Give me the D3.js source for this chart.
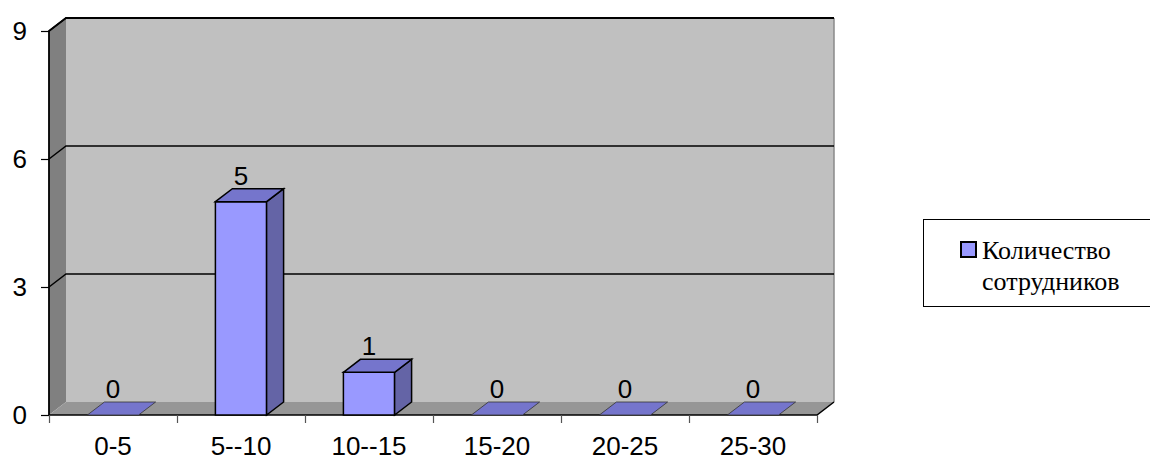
<!DOCTYPE html>
<html>
<head>
<meta charset="utf-8">
<title>Количество сотрудников</title>
<style>
  body { margin: 0; background: #fff; }
  .serif { font-family: "Liberation Serif", "DejaVu Serif", "Times New Roman", serif; }
  .sans { font-family: "Liberation Sans", Arial, sans-serif; }
</style>
</head>
<body>
<svg width="1150" height="460"></svg>
<script src="https://cdn.jsdelivr.net/npm/d3@7"></script>
<script>

var categories = ["0-5", "5--10", "10--15", "15-20", "20-25", "25-30"];
var values = [0, 5, 1, 0, 0, 0];
var yTicks = [0, 3, 6, 9];
var seriesName = ["Количество", "сотрудников"];

var svg = d3.select("svg");

// front plane of the 3D box
var pLeft = 49, pRight = 817, pTop = 31, pBottom = 415;
var dx = 17, dy = -13;   // depth offset

var x = d3.scaleBand().domain(categories).range([pLeft, pRight])
    .paddingInner(0.6).paddingOuter(0.3);
var xLab = d3.scaleBand().domain(categories).range([pLeft, pRight]);
var xEdge = d3.scaleLinear().domain([0, categories.length]).range([pLeft, pRight]);
var y = d3.scaleLinear().domain([0, 9]).range([pBottom, pTop]);

function poly(pts) { return "M" + pts.map(function (p) { return p.join(","); }).join("L") + "Z"; }

var g = svg.append("g");

// back wall
g.append("path")
    .attr("d", poly([[pLeft + dx, pTop + dy], [pRight + dx, pTop + dy], [pRight + dx, pBottom + dy], [pLeft + dx, pBottom + dy]]))
    .attr("fill", "#c0c0c0");
// left wall
g.append("path")
    .attr("d", poly([[pLeft, pTop], [pLeft + dx, pTop + dy], [pLeft + dx, pBottom + dy], [pLeft, pBottom]]))
    .attr("fill", "#808080");
// floor
g.append("path")
    .attr("d", poly([[pLeft, pBottom], [pRight, pBottom], [pRight + dx, pBottom + dy], [pLeft + dx, pBottom + dy]]))
    .attr("fill", "#969696");

// right edge of back wall
g.append("line")
    .attr("x1", pRight + dx).attr("x2", pRight + dx)
    .attr("y1", pTop + dy).attr("y2", pBottom + dy)
    .attr("stroke", "#8a8a8a").attr("stroke-width", 1.5);

// gridlines (wall + back)
g.selectAll(".grid")
    .data(yTicks.filter(function (d) { return d > 0; }))
    .enter().append("path")
    .attr("class", "grid")
    .attr("fill", "none")
    .attr("stroke", "#000")
    .attr("stroke-width", 1.5)
    .attr("d", function (d) {
        var yy = y(d);
        return "M" + pLeft + "," + yy + "L" + (pLeft + dx) + "," + (yy + dy) + "L" + (pRight + dx) + "," + (yy + dy);
    });

// floor edges
g.append("path")
    .attr("d", "M" + pLeft + "," + pBottom + "L" + pRight + "," + pBottom + "L" + (pRight + dx) + "," + (pBottom + dy))
    .attr("fill", "none").attr("stroke", "#000").attr("stroke-width", 1.5);

// bars
var bars = g.selectAll(".bar")
    .data(values.map(function (v, i) { return { cat: categories[i], v: v }; }))
    .enter().append("g")
    .attr("class", "bar");

bars.each(function (d) {
    var b = d3.select(this);
    var x0 = x(d.cat), x1 = x(d.cat) + x.bandwidth();
    var y0 = y(0), y1 = y(d.v);
    if (d.v > 0) {
        b.append("path")
            .attr("d", poly([[x0, y1], [x1, y1], [x1, y0], [x0, y0]]))
            .attr("fill", "#9999ff").attr("stroke", "#000").attr("stroke-width", 1.5);
        b.append("path")
            .attr("d", poly([[x1, y1], [x1 + dx, y1 + dy], [x1 + dx, y0 + dy], [x1, y0]]))
            .attr("fill", "#6464a6").attr("stroke", "#000").attr("stroke-width", 1.5);
    }
    b.append("path")
        .attr("d", poly([[x0, y1], [x0 + dx, y1 + dy], [x1 + dx, y1 + dy], [x1, y1]]))
        .attr("fill", "#7575cc").attr("stroke", d.v > 0 ? "#000" : "#333").attr("stroke-width", d.v > 0 ? 1.5 : 0.8);
    b.append("text")
        .attr("class", "sans")
        .attr("x", (x0 + x1) / 2)
        .attr("y", y1 + dy - 4)
        .attr("text-anchor", "middle")
        .style("font-size", "26px")
        .text(d.v);
});

// left axis line + top diagonal + top back edge
g.append("path")
    .attr("d", "M" + pLeft + "," + pBottom + "L" + pLeft + "," + pTop + "L" + (pLeft + dx) + "," + (pTop + dy) + "L" + (pRight + dx) + "," + (pTop + dy))
    .attr("fill", "none").attr("stroke", "#000").attr("stroke-width", 1.8);

// y axis
var yAxis = g.append("g")
    .attr("transform", "translate(" + pLeft + ",0)")
    .call(d3.axisLeft(y).tickValues(yTicks).tickSize(8).tickPadding(14).tickFormat(d3.format("d")));
yAxis.select(".domain").remove();
yAxis.attr("font-family", null).attr("font-size", null);
yAxis.selectAll("line").attr("stroke", "#000").attr("stroke-width", 1.2);
yAxis.selectAll("text").attr("class", "sans").style("font-size", "26px").attr("fill", "#000");

// x axis: boundary ticks and centered labels
var xTicks = g.append("g")
    .attr("transform", "translate(0," + pBottom + ")")
    .call(d3.axisBottom(xEdge).tickValues(d3.range(categories.length + 1)).tickSize(8).tickFormat(""));
xTicks.select(".domain").remove();
xTicks.selectAll("line").attr("stroke", "#555").attr("stroke-width", 1.2);

var xAxis = g.append("g")
    .attr("transform", "translate(0," + pBottom + ")")
    .call(d3.axisBottom(xLab).tickSize(0).tickPadding(22));
xAxis.select(".domain").remove();
xAxis.attr("font-family", null).attr("font-size", null);
xAxis.selectAll("text").attr("class", "sans").style("font-size", "26px").attr("fill", "#000");

// legend
var lg = svg.append("g");
lg.append("rect")
    .attr("x", 923.5).attr("y", 219.5).attr("width", 240).attr("height", 87)
    .attr("fill", "#fff").attr("stroke", "#000").attr("stroke-width", 1);
lg.append("rect")
    .attr("x", 961).attr("y", 242).attr("width", 15).attr("height", 15)
    .attr("fill", "#9999ff").attr("stroke", "#000").attr("stroke-width", 2);
lg.selectAll(".lt")
    .data(seriesName)
    .enter().append("text")
    .attr("class", "lt serif")
    .attr("x", 982)
    .attr("y", function (d, i) { return 259 + i * 31; })
    .style("font-size", "26px")
    .text(function (d) { return d; });

</script>
</body>
</html>
